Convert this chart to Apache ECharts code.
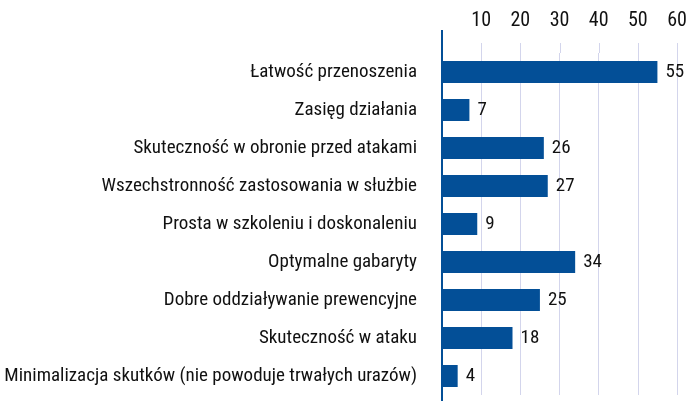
<!DOCTYPE html>
<html>
<head>
<meta charset="utf-8">
<script src="https://cdn.jsdelivr.net/npm/echarts@6/dist/echarts.min.js"></script>
<style>
  html, body { margin: 0; padding: 0; background: #ffffff; }
  #chart { width: 691px; height: 401px; }
</style>
</head>
<body>
<div id="chart"></div>
<script>
const categories = [
  'Łatwość przenoszenia',
  'Zasięg działania',
  'Skuteczność w obronie przed atakami',
  'Wszechstronność zastosowania w służbie',
  'Prosta w szkoleniu i doskonaleniu',
  'Optymalne gabaryty',
  'Dobre oddziaływanie prewencyjne',
  'Skuteczność w ataku',
  'Minimalizacja skutków (nie powoduje trwałych urazów)'
]
const values = [55, 7, 26, 27, 9, 34, 25, 18, 4]
const xTicks = [0, 10, 20, 30, 40, 50, 60]

const barColor = '#034f97'
const gridColor = '#d3d5ec'
const textColor = '#111111'
const fontFamily = '"Roboto Condensed", "Liberation Sans", sans-serif'

const chart = echarts.init(document.getElementById('chart'), null, { renderer: 'canvas' })

chart.setOption({
  animation: false,
  backgroundColor: '#ffffff',
  grid: { left: 442, right: 14, top: 53, bottom: 6, containLabel: false, outerBoundsMode: 'none' },
  xAxis: {
    type: 'value',
    position: 'top',
    min: xTicks[0],
    max: xTicks[xTicks.length - 1],
    interval: 10,
    axisLine: { show: false },
    axisTick: { show: false },
    axisLabel: {
      color: textColor,
      fontFamily,
      fontSize: 20,
      margin: 22,
      formatter: v => (v === 0 ? '' : String(v))
    },
    splitLine: { show: true, lineStyle: { color: gridColor, width: 1 } }
  },
  yAxis: {
    type: 'category',
    inverse: true,
    data: categories,
    axisLine: { show: false },
    axisTick: { show: false },
    axisLabel: { color: textColor, fontFamily, fontSize: 19, margin: 25 }
  },
  series: [{
    type: 'bar',
    data: values,
    barWidth: 22,
    itemStyle: { color: barColor },
    label: {
      show: true,
      position: 'right',
      distance: 8,
      color: textColor,
      fontFamily,
      fontSize: 19
    }
  }]
})

// extend the value axis line and the grid lines above the plot area, as in the source
const gridTop = 53
const x0 = chart.convertToPixel({ gridIndex: 0 }, [0, 0])[0]
const extras = [{
  type: 'line',
  z: 10,
  shape: { x1: x0, y1: 30, x2: x0, y2: 401 },
  style: { stroke: barColor, lineWidth: 2 }
}]
xTicks.slice(1).forEach(t => {
  const x = Math.round(chart.convertToPixel({ gridIndex: 0 }, [t, 0])[0]) + 0.5
  extras.push({
    type: 'line',
    shape: { x1: x, y1: 43, x2: x, y2: gridTop },
    style: { stroke: gridColor, lineWidth: 1 }
  })
})
chart.setOption({ graphic: extras })
</script>
</body>
</html>
